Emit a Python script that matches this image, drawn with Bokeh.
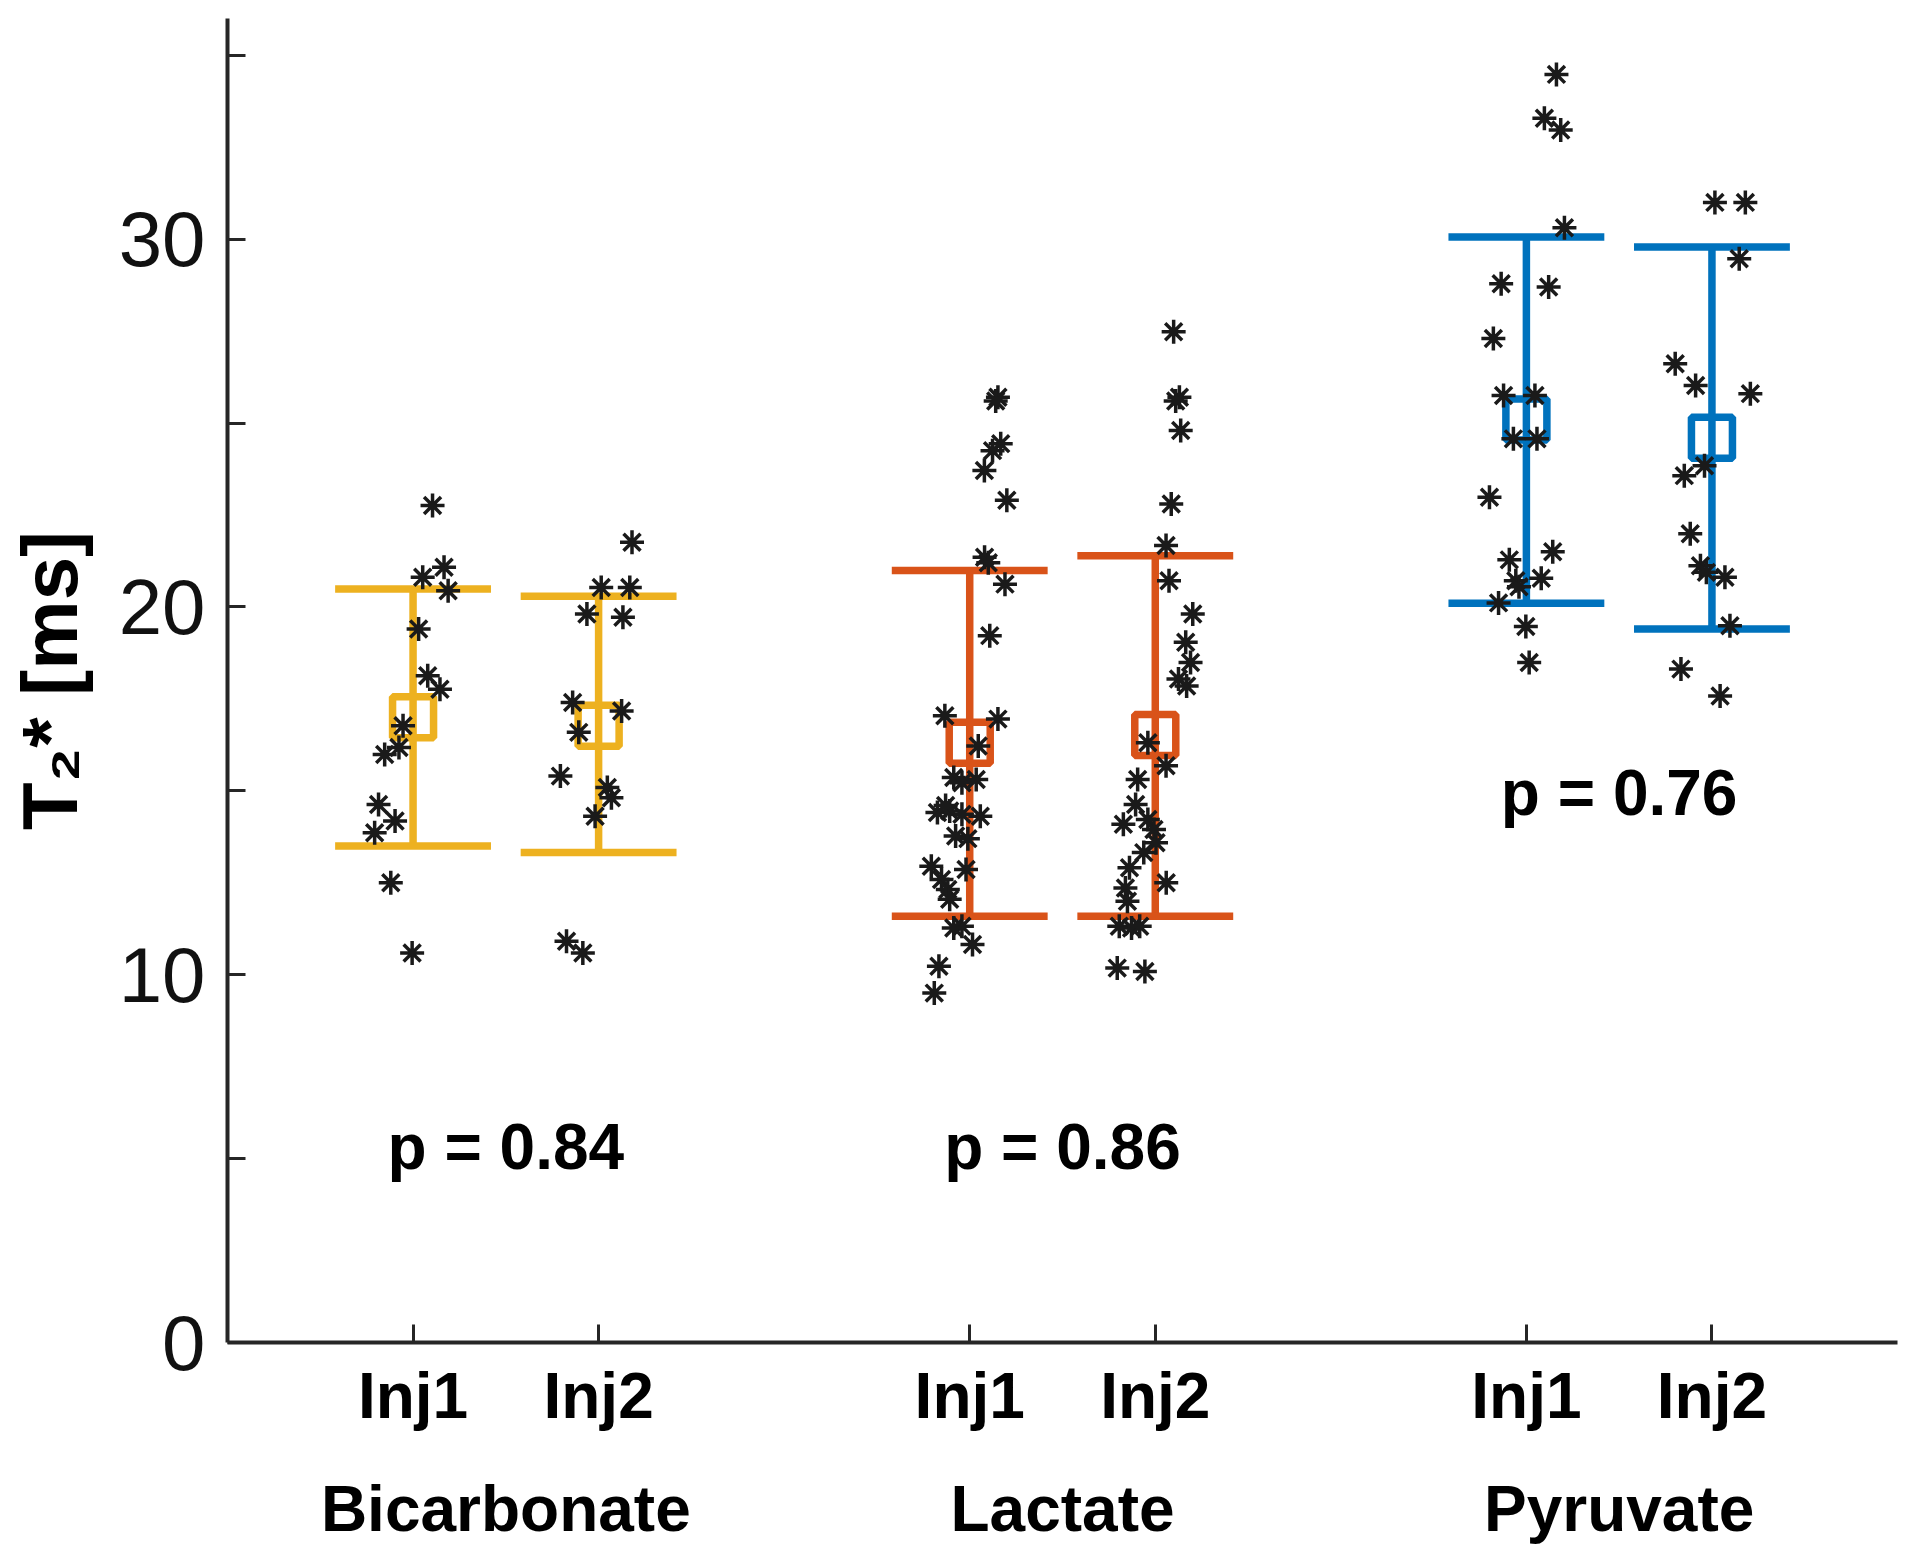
from bokeh.plotting import figure
from bokeh.models import Range1d, FixedTicker, LinearAxis
from bokeh.embed import file_html
from bokeh.resources import INLINE
from bokeh.core.properties import value

# ---------------- data ----------------
groups = ["Bicarbonate", "Lactate", "Pyruvate"]
group_centers = [1.5, 4.5, 7.5]
inj_positions = [1, 2, 4, 5, 7, 8]
inj_labels = ["Inj1", "Inj2", "Inj1", "Inj2", "Inj1", "Inj2"]
series_colors = ["#EDB120", "#EDB120", "#D95319", "#D95319", "#0072BD", "#0072BD"]

means = [17.0, 16.77, 16.31, 16.52, 25.10, 24.60]
upper = [20.49, 20.29, 20.99, 21.39, 30.06, 29.79]
lower = [13.50, 13.32, 11.59, 11.59, 20.10, 19.40]

p_values = ["p = 0.84", "p = 0.86", "p = 0.76"]
p_value_y = [5.32, 5.32, 14.93]

y_ticks = [0, 5, 10, 15, 20, 25, 30, 35]
y_tick_labels = ["0", "", "10", "", "20", "", "30", ""]

# individual measurements (x = jittered position, y = T2* in ms)
bic1_x = [1.105, 1.167, 1.052, 1.189, 1.030, 1.079, 1.145, 0.946, 0.924, 0.847, 0.814, 0.903, 0.793, 0.880, 0.995]
bic1_y = [22.76, 21.08, 20.81, 20.44, 19.40, 18.13, 17.76, 16.77, 16.18, 15.99, 14.63, 14.18, 13.86, 12.50, 10.59]

bic2_x = [2.180, 2.014, 2.168, 1.937, 2.131, 1.860, 2.124, 1.893, 1.794, 2.047, 2.069, 1.981, 1.827, 1.915]
bic2_y = [21.76, 20.53, 20.53, 19.81, 19.72, 17.40, 17.17, 16.59, 15.40, 15.09, 14.81, 14.31, 10.91, 10.59]

lac1_x = [4.152, 4.140, 4.167, 4.123, 4.079, 4.200, 4.080, 4.100, 4.190, 4.108, 3.866, 4.152, 4.046,
          3.914, 4.035, 3.958, 3.826, 3.892, 3.958, 4.057, 3.924, 3.793, 3.848, 3.882, 3.892, 3.980,
          3.958, 3.914, 4.015, 3.834, 3.809, 3.990, 3.870]
lac1_y = [25.70, 25.60, 24.44, 24.25, 23.71, 22.90, 21.35, 21.20, 20.62, 19.22, 17.04, 16.95, 16.22,
          15.36, 15.31, 15.22, 14.41, 14.45, 14.36, 14.31, 13.77, 12.95, 12.59, 12.32, 12.05, 12.86,
          11.32, 11.27, 10.82, 10.23, 9.50, 13.70, 14.60]

lac2_x = [5.099, 5.130, 5.110, 5.137, 5.086, 5.058, 5.074, 5.202, 5.164, 5.190, 5.125, 5.169, 4.960,
          5.058, 4.905, 4.894, 4.828, 4.960, 4.993, 5.004, 4.938, 4.861, 5.059, 4.839, 4.850, 4.806,
          4.872, 4.916, 4.795, 4.944]
lac2_y = [27.48, 25.70, 25.60, 24.80, 22.80, 21.67, 20.71, 19.81, 19.04, 18.49, 18.04, 17.85, 16.31,
          15.68, 15.31, 14.63, 14.09, 14.22, 13.95, 13.59, 13.32, 12.91, 12.50, 12.36, 12.00, 11.32,
          11.27, 11.32, 10.18, 10.09]

pyr1_x = [7.162, 7.097, 7.185, 7.205, 6.864, 7.120, 6.822, 6.877, 7.046, 6.930, 7.057, 6.801, 7.142,
          6.908, 7.080, 6.943, 6.960, 6.850, 6.997, 7.015]
pyr1_y = [34.48, 33.29, 32.97, 30.31, 28.79, 28.70, 27.30, 25.75, 25.75, 24.57, 24.57, 22.98, 21.50,
          21.28, 20.78, 20.71, 20.55, 20.11, 19.47, 18.49]

pyr2_x = [8.016, 8.180, 8.147, 7.802, 7.912, 8.207, 7.851, 7.960, 7.883, 7.938, 7.970, 8.070, 8.097,
          7.833, 8.044]
pyr2_y = [31.00, 31.00, 29.47, 26.61, 26.02, 25.80, 23.57, 23.84, 21.99, 21.12, 20.94, 20.81, 19.49,
          18.31, 17.58]

points_x = [bic1_x, bic2_x, lac1_x, lac2_x, pyr1_x, pyr2_x]
points_y = [bic1_y, bic2_y, lac1_y, lac2_y, pyr1_y, pyr2_y]

# ---------------- styles ----------------
FONT = "Liberation Sans"
AX = "#262626"
CAP_HALF = 0.42

p = figure(width=1904, height=1556,
           x_range=Range1d(0, 9), y_range=Range1d(0, 36),
           output_backend="svg", toolbar_location=None,
           min_border_left=227, min_border_right=7,
           min_border_top=18, min_border_bottom=214)
p.xgrid.visible = False
p.ygrid.visible = False
p.outline_line_color = None
p.background_fill_color = "white"
p.border_fill_color = "white"

# x axis (injection labels)
xa = p.xaxis[0]
xa.ticker = FixedTicker(ticks=inj_positions)
xa.major_label_overrides = {k: v for k, v in zip(inj_positions, inj_labels)}
xa.major_label_text_font = FONT
xa.major_label_text_font_style = "bold"
xa.major_label_text_font_size = "64px"
xa.major_label_text_color = "black"
xa.major_label_standoff = 17
xa.axis_line_width = 4
xa.axis_line_color = AX
xa.major_tick_line_width = 3
xa.major_tick_line_color = AX
xa.major_tick_in = 18
xa.major_tick_out = 0
xa.minor_tick_line_color = None

# second row of x labels (metabolite names)
ga = LinearAxis(ticker=FixedTicker(ticks=group_centers),
                major_label_overrides={k: v for k, v in zip(group_centers, groups)})
ga.axis_line_color = None
ga.major_tick_line_color = None
ga.minor_tick_line_color = None
ga.major_tick_in = 0
ga.major_tick_out = 0
ga.major_label_text_font = FONT
ga.major_label_text_font_style = "bold"
ga.major_label_text_font_size = "64px"
ga.major_label_text_color = "black"
ga.major_label_standoff = 38
p.add_layout(ga, "below")

# y axis
ya = p.yaxis[0]
ya.ticker = FixedTicker(ticks=y_ticks)
ya.major_label_overrides = {k: v for k, v in zip(y_ticks, y_tick_labels)}
ya.major_label_text_font = FONT
ya.major_label_text_font_size = "78px"
ya.major_label_text_color = "#111111"
ya.major_label_standoff = 22
ya.axis_line_width = 4
ya.axis_line_color = AX
ya.major_tick_line_width = 3
ya.major_tick_line_color = AX
ya.major_tick_in = 18
ya.major_tick_out = 0
ya.minor_tick_line_color = None
ya.axis_label = "T\u2082* [ms]"
ya.axis_label_text_font = FONT
ya.axis_label_text_font_style = "bold"
ya.axis_label_text_font_size = "78px"
ya.axis_label_text_color = "black"
ya.axis_label_standoff = 22

# error bars
cap_left = [x - CAP_HALF for x in inj_positions]
cap_right = [x + CAP_HALF for x in inj_positions]
p.segment(x0=inj_positions, y0=lower, x1=inj_positions, y1=upper,
          line_color=series_colors, line_width=7.5)
p.segment(x0=cap_left, y0=upper, x1=cap_right, y1=upper,
          line_color=series_colors, line_width=7.5)
p.segment(x0=cap_left, y0=lower, x1=cap_right, y1=lower,
          line_color=series_colors, line_width=7.5)
p.scatter(x=inj_positions, y=means, marker="square", size=41,
          fill_color=None, line_color=series_colors, line_width=7.5)

# individual points
for xs, ys in zip(points_x, points_y):
    p.scatter(x=xs, y=ys, marker="asterisk", size=24,
              line_color="#1a1a1a", line_width=3.5)

# p-values
p.text(x=group_centers, y=p_value_y, text=p_values,
       text_font=value(FONT), text_font_style="bold", text_font_size="64px",
       text_align="center", text_baseline="middle", text_color="black")

open("out.html", "w").write(file_html(p, INLINE))
